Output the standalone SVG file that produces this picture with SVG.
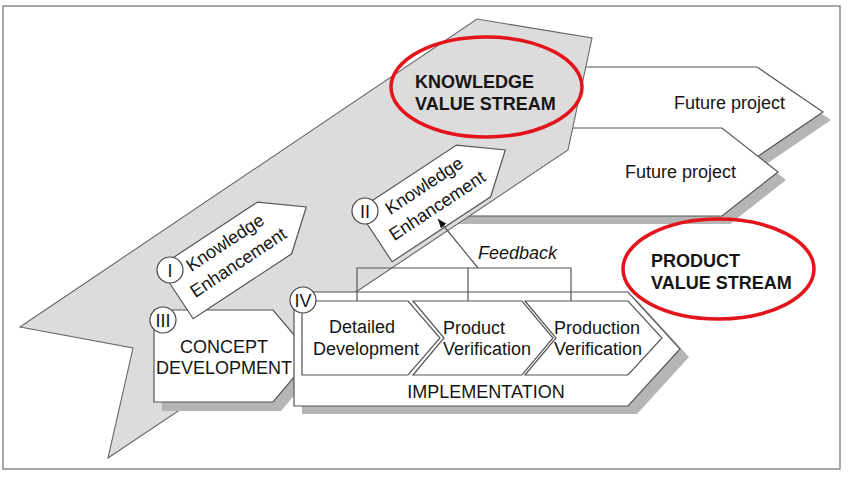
<svg xmlns="http://www.w3.org/2000/svg" width="850" height="482" viewBox="0 0 850 482">
<defs>
<style>
.shape{fill:#fff;stroke:#555;stroke-width:1.2;stroke-linejoin:miter}
.shadow{fill:#b5b5b5;stroke:none}
.gray{fill:#dcdcdc;stroke:#666;stroke-width:1.1}
.ring{fill:none;stroke:#e3141b;stroke-width:3.5}
.num{fill:#fff;stroke:#444;stroke-width:1.2}
.t{font-family:"Liberation Sans",Arial,sans-serif;font-size:18px;fill:#151515}
.b{font-weight:bold}
.m{text-anchor:middle}
.ln{fill:none;stroke:#555;stroke-width:1.2}
</style>
<marker id="ah" viewBox="0 0 10 10" refX="10" refY="5" markerWidth="9" markerHeight="9" markerUnits="userSpaceOnUse" orient="auto">
<path d="M0,1 L10,5 L0,9 Z" fill="#111"/>
</marker>
</defs>
<rect x="0" y="0" width="850" height="482" fill="#fff"/>
<rect x="3" y="6" width="837" height="463" fill="none" stroke="#8a8a8a" stroke-width="1.5"/>

<g id="future-project-1">
<polygon class="shadow" points="508,75 765,75 831,120 765,165 508,165"/>
<polygon class="shape" points="500,67 757,67 823,112 757,157 500,157"/>
<text class="t" x="674" y="109">Future project</text>
</g>

<g id="future-project-2">
<polygon class="shadow" points="428,136 730,136 786,180 730,224 428,224"/>
<polygon class="shape" points="420,128 722,128 778,172 722,216 420,216"/>
<text class="t" x="625" y="178">Future project</text>
</g>

<g id="knowledge-value-stream">
<polygon class="gray" points="20,327 477,19 592,38 568,150 108,458 133,348"/>
<ellipse class="ring" cx="486.5" cy="87" rx="95.5" ry="50"/>
<text class="t b" x="415" y="88">KNOWLEDGE</text>
<text class="t b" x="415" y="110">VALUE STREAM</text>
</g>

<g id="concept-development">
<polygon class="shadow" points="162,319 281,319 320,365 281,411 162,411"/>
<polygon class="shape" points="154,310 273,310 312,356 273,402 154,402"/>
<text class="t m" x="224" y="353">CONCEPT</text>
<text class="t m" x="224" y="374">DEVELOPMENT</text>
<circle class="num" cx="163" cy="320" r="13"/>
<text class="t m" x="163" y="326.5">III</text>
</g>

<g id="knowledge-enhancement-1">
<g transform="translate(159,267) rotate(-33.4)">
<polygon class="shape" points="0,0 118,0 156,31 118,62 0,62"/>
<text class="t" x="24" y="22">Knowledge</text>
<text class="t" x="13" y="46">Enhancement</text>
</g>
<circle class="num" cx="170" cy="270" r="13"/>
<text class="t m" x="170" y="276.5">I</text>
</g>

<g id="knowledge-enhancement-2">
<g transform="translate(358,210) rotate(-33.4)">
<polygon class="shape" points="0,0 118,0 156,31 118,62 0,62"/>
<text class="t" x="24" y="22">Knowledge</text>
<text class="t" x="13" y="46">Enhancement</text>
</g>
<circle class="num" cx="365" cy="211" r="13"/>
<text class="t m" x="365" y="217.5">II</text>
</g>

<g id="implementation">
<polygon class="shadow" points="302,300 637,300 689,357 637,414 302,414"/>
<polygon class="shape" points="294,292 628,292 680,349 628,406 294,406"/>
<text class="t m" x="486" y="398">IMPLEMENTATION</text>
</g>

<g id="detailed-development">
<polygon class="shape" points="302,301 408,301 440,338 408,375 302,375"/>
<text class="t" x="329" y="333">Detailed</text>
<text class="t" x="313" y="355">Development</text>
</g>

<g id="product-verification">
<polygon class="shape" points="413,301 522,301 553,338 522,375 413,375 444,338"/>
<text class="t" x="443" y="334">Product</text>
<text class="t" x="443" y="355">Verification</text>
</g>

<g id="production-verification">
<polygon class="shape" points="525,301 628,301 662,338 628,375 525,375 556,338"/>
<text class="t" x="554" y="334">Production</text>
<text class="t" x="554" y="355">Verification</text>
</g>

<g id="concept-over-impl">
<circle class="num" cx="303" cy="300" r="13"/>
<text class="t m" x="303" y="306.5">IV</text>
</g>

<g id="connectors">
<polyline class="ln" points="357,301 357,268 571,268 571,301"/>
<line class="ln" x1="468" y1="268" x2="468" y2="301"/>
<line class="ln" x1="478" y1="268" x2="438" y2="219" stroke="#222" marker-end="url(#ah)"/>
<text class="t" x="478" y="259" font-style="italic">Feedback</text>
</g>

<g id="product-value-stream">
<ellipse class="ring" cx="718.5" cy="269" rx="95.5" ry="50"/>
<text class="t b" x="651" y="267">PRODUCT</text>
<text class="t b" x="651" y="289">VALUE STREAM</text>
</g>
</svg>
